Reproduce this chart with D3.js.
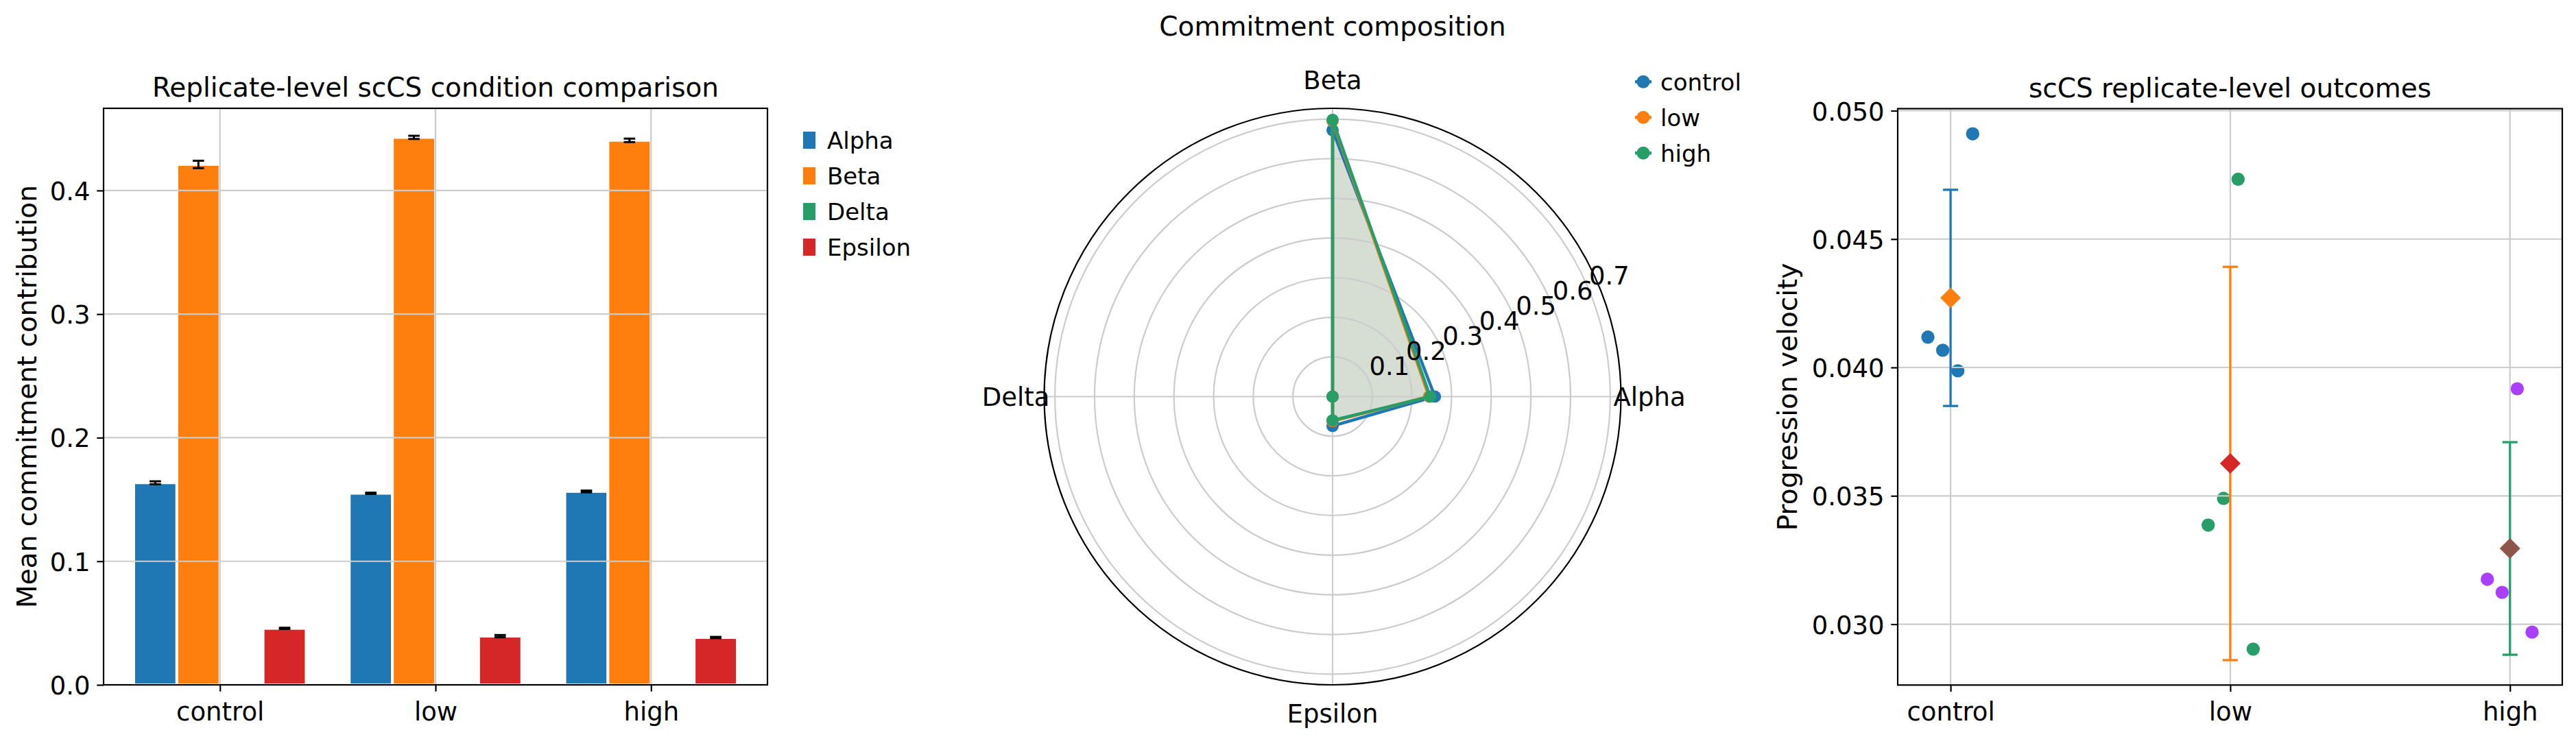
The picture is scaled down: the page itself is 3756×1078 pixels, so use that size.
<!DOCTYPE html>
<html>
<head>
<meta charset="utf-8">
<script src="https://cdn.jsdelivr.net/npm/d3@7"></script>
<style>
  html, body { margin: 0; padding: 0; background: #ffffff; }
  svg { display: block; }
  text { font-family: "DejaVu Sans", sans-serif; fill: #000; }
</style>
</head>
<body>
<script>
// ---------------- DATA ----------------
const conditions = ["control", "low", "high"];
const cellTypes = ["Alpha", "Beta", "Delta", "Epsilon"];

// Panel 1: mean commitment contribution per condition (bars) and error
const alphaMean   = [0.1635, 0.1550, 0.1565];
const betaMean    = [0.4211, 0.4430, 0.4406];
const deltaMean   = [0.0, 0.0, 0.0];
const epsilonMean = [0.0457, 0.0394, 0.0383];
const alphaErr    = [0.0012, 0.0005, 0.0007];
const betaErr     = [0.0030, 0.0013, 0.0014];
const deltaErr    = [0.0, 0.0, 0.0];
const epsilonErr  = [0.0005, 0.0009, 0.0005];
const barTicks    = [0.0, 0.1, 0.2, 0.3, 0.4];

// Panel 2: commitment composition (radar)
const radarControl = [0.258, 0.672, 0.0, 0.074];
const radarLow     = [0.243, 0.695, 0.0, 0.062];
const radarHigh    = [0.246, 0.698, 0.0, 0.060];
const radarTicks   = [0.1, 0.2, 0.3, 0.4, 0.5, 0.6, 0.7];
const radarMax     = 0.727;

// Panel 3: replicate-level progression velocity
const controlReps  = [0.04910, 0.04118, 0.04067, 0.03987];
const lowReps      = [0.04733, 0.03490, 0.03386, 0.02903];
const highReps     = [0.03917, 0.03175, 0.03124, 0.02969];
const controlJit   = [0.079, -0.081, -0.028, 0.026];
const lowJit       = [0.028, -0.024, -0.079, 0.082];
const highJit      = [0.026, -0.081, -0.028, 0.079];
const velMean      = [0.04271, 0.03626, 0.03295];
const velSd        = [0.00421, 0.00766, 0.00414];
const velTicks     = [0.030, 0.035, 0.040, 0.045, 0.050];
const velDomain    = [0.02763, 0.05008];

// ---------------- STYLE ----------------
const cellColors = ["#1f77b4", "#ff7f0e", "#279e68", "#d62728"];
const condColors = ["#1f77b4", "#ff7f0e", "#279e68"];
const pointColors = ["#1f77b4", "#279e68", "#aa40fc"];
const meanColors  = ["#ff7f0e", "#d62728", "#8c564b"];
const gridColor = "#cccccc";
const FS_TICK = 37, FS_LABEL = 39, FS_LEG = 34;
const TICK_LEN = 9.7, TICK_PAD = 9.7, SPINE_W = 2.2;

const W = 3756, H = 1078;
const svg = d3.select("body").append("svg").attr("width", W).attr("height", H);
svg.append("rect").attr("width", W).attr("height", H).attr("fill", "#fff");

// ================= PANEL 1: grouped bars =================
(function () {
  const L = 151, R = 1119, T = 158, B = 999;
  const barW = 0.2;
  const series = [alphaMean, betaMean, deltaMean, epsilonMean];
  const errs = [alphaErr, betaErr, deltaErr, epsilonErr];
  const topVal = d3.max(series.flatMap((s, k) => s.map((v, i) => v + errs[k][i])));
  const xMinB = -1.5 * barW - barW / 2, xMaxB = (conditions.length - 1) + 1.5 * barW + barW / 2;
  const xPad = 0.05 * (xMaxB - xMinB);
  const x = d3.scaleLinear().domain([xMinB - xPad, xMaxB + xPad]).range([L, R]);
  const y = d3.scaleLinear().domain([0, topVal * 1.05]).range([B, T]);
  const g = svg.append("g");

  // bars
  series.forEach((s, k) => {
    g.selectAll(null).data(s).enter().append("rect")
      .attr("x", (d, i) => x(i + (k - 1.5) * barW - barW / 2))
      .attr("width", x(barW) - x(0))
      .attr("y", d => y(d))
      .attr("height", d => y(0) - y(d))
      .attr("fill", cellColors[k])
      .attr("stroke", d => d > 0 ? "#fff" : "none")
      .attr("stroke-width", 4);
  });

  // grid (above bars like matplotlib default)
  g.selectAll(null).data(barTicks).enter().append("line")
    .attr("x1", L).attr("x2", R).attr("y1", d => y(d)).attr("y2", d => y(d))
    .attr("stroke", gridColor).attr("stroke-width", 2.2);
  g.selectAll(null).data(conditions).enter().append("line")
    .attr("x1", (d, i) => x(i)).attr("x2", (d, i) => x(i)).attr("y1", T).attr("y2", B)
    .attr("stroke", gridColor).attr("stroke-width", 2.2);

  // error bars
  series.forEach((s, k) => {
    if (k === 2) return;
    s.forEach((v, i) => {
      const cx = x(i + (k - 1.5) * barW);
      const e = errs[k][i];
      g.append("line").attr("x1", cx).attr("x2", cx).attr("y1", y(v - e)).attr("y2", y(v + e))
        .attr("stroke", "#000").attr("stroke-width", 3);
      [v - e, v + e].forEach(val => {
        g.append("line").attr("x1", cx - 8.3).attr("x2", cx + 8.3).attr("y1", y(val)).attr("y2", y(val))
          .attr("stroke", "#000").attr("stroke-width", 3);
      });
    });
  });

  // frame
  g.append("rect").attr("x", L).attr("y", T).attr("width", R - L).attr("height", B - T)
    .attr("fill", "none").attr("stroke", "#000").attr("stroke-width", SPINE_W);

  // axes
  const yAxis = d3.axisLeft(y).tickValues(barTicks).tickFormat(d3.format(".1f"))
    .tickSize(TICK_LEN).tickPadding(TICK_PAD);
  const ya = g.append("g").attr("transform", `translate(${L},0)`).call(yAxis);
  const xAxis = d3.axisBottom(x).tickValues(conditions.map((c, i) => i))
    .tickFormat(i => conditions[i]).tickSize(TICK_LEN).tickPadding(TICK_PAD);
  const xa = g.append("g").attr("transform", `translate(0,${B})`).call(xAxis);
  [ya, xa].forEach(a => {
    a.select(".domain").remove();
    a.selectAll(".tick line").attr("stroke", "#000").attr("stroke-width", SPINE_W);
    a.selectAll(".tick text").attr("font-size", FS_TICK).attr("font-family", "DejaVu Sans");
  });
  ya.selectAll(".tick text").attr("dy", "0.365em");
  xa.selectAll(".tick text").attr("dy", null).attr("y", 1051 - B).attr("dominant-baseline", "alphabetic");

  // title & label
  g.append("text").attr("x", (L + R) / 2).attr("y", T - 16.7).attr("text-anchor", "middle")
    .attr("font-size", FS_LABEL).text("Replicate-level scCS condition comparison");
  g.append("text").attr("transform", `translate(53,${(T + B) / 2}) rotate(-90)`)
    .attr("text-anchor", "middle").attr("font-size", FS_LABEL).text("Mean commitment contribution");

  // legend
  const lg = g.append("g");
  cellTypes.forEach((c, k) => {
    lg.append("rect").attr("x", 1171).attr("y", 192 + k * 52).attr("width", 18).attr("height", 25)
      .attr("fill", cellColors[k]);
    lg.append("text").attr("x", 1206).attr("y", 216.7 + k * 52).attr("font-size", FS_LEG).text(c);
  });
})();

// ================= PANEL 2: radar =================
(function () {
  const cx = 1943, cy = 578.5, Rpx = 420.5;
  const r = d3.scaleLinear().domain([0, radarMax]).range([0, Rpx]);
  const g = svg.append("g").attr("transform", `translate(${cx},${cy})`);
  const theta = j => j * Math.PI / 2; // counter-clockwise from east
  const px = (val, j) => r(val) * Math.cos(theta(j));
  const py = (val, j) => -r(val) * Math.sin(theta(j));
  const line = d3.line().x(d => d[0]).y(d => d[1]).curve(d3.curveLinearClosed);
  const datasets = [radarControl, radarLow, radarHigh];

  // fills (below grid)
  datasets.forEach((vals, c) => {
    g.append("path").attr("d", line(vals.map((v, j) => [px(v, j), py(v, j)])))
      .attr("fill", condColors[c]).attr("fill-opacity", 0.1).attr("stroke", "none");
  });

  // grid
  g.selectAll(null).data(radarTicks).enter().append("circle")
    .attr("r", d => r(d)).attr("fill", "none").attr("stroke", gridColor).attr("stroke-width", 2.2);
  cellTypes.forEach((c, j) => {
    g.append("line").attr("x1", 0).attr("y1", 0).attr("x2", px(radarMax, j)).attr("y2", py(radarMax, j))
      .attr("stroke", gridColor).attr("stroke-width", 2.2);
  });

  // lines + markers
  datasets.forEach((vals, c) => {
    const pts = vals.map((v, j) => [px(v, j), py(v, j)]);
    g.append("path").attr("d", line(pts)).attr("fill", "none")
      .attr("stroke", condColors[c]).attr("stroke-width", 4.5).attr("stroke-linejoin", "round");
    g.selectAll(null).data(pts).enter().append("circle")
      .attr("cx", d => d[0]).attr("cy", d => d[1]).attr("r", 9).attr("fill", condColors[c]);
  });

  // outer spine
  g.append("circle").attr("r", Rpx).attr("fill", "none").attr("stroke", "#000").attr("stroke-width", SPINE_W);

  // angular labels
  cellTypes.forEach((c, j) => {
    const rr = Rpx + 41.5;
    g.append("text").attr("x", rr * Math.cos(theta(j))).attr("y", -rr * Math.sin(theta(j)) + 13.5)
      .attr("text-anchor", "middle").attr("font-size", FS_TICK).text(c);
  });

  // radial labels at 22.5 deg
  const a = 22.5 * Math.PI / 180;
  radarTicks.forEach(t => {
    g.append("text").attr("x", r(t) * Math.cos(a)).attr("y", -r(t) * Math.sin(a) - 9)
      .attr("font-size", FS_TICK).text(d3.format(".1f")(t));
  });

  // title
  svg.append("text").attr("x", cx).attr("y", 52).attr("text-anchor", "middle")
    .attr("font-size", FS_LABEL).text("Commitment composition");

  // legend
  const lg = svg.append("g");
  conditions.forEach((c, k) => {
    const yy = 119.3 + k * 52;
    lg.append("line").attr("x1", 2384).attr("x2", 2408).attr("y1", yy).attr("y2", yy)
      .attr("stroke", condColors[k]).attr("stroke-width", 4.5);
    lg.append("circle").attr("cx", 2396).attr("cy", yy).attr("r", 9.5).attr("fill", condColors[k]);
    lg.append("text").attr("x", 2421).attr("y", yy + 13).attr("font-size", FS_LEG).text(c);
  });
})();

// ================= PANEL 3: replicate outcomes =================
(function () {
  const L = 2767, R = 3736, T = 158.5, B = 999.3;
  const x = d3.scaleLinear().domain([-0.189, 2.187]).range([L, R]);
  const y = d3.scaleLinear().domain(velDomain).range([B, T]);
  const g = svg.append("g");
  const reps = [controlReps, lowReps, highReps];
  const jits = [controlJit, lowJit, highJit];

  // points (below grid, like matplotlib collections)
  reps.forEach((vals, i) => {
    g.selectAll(null).data(vals).enter().append("circle")
      .attr("cx", (d, k) => x(i + jits[i][k])).attr("cy", d => y(d)).attr("r", 9.7)
      .attr("fill", pointColors[i]);
  });

  // grid
  g.selectAll(null).data(velTicks).enter().append("line")
    .attr("x1", L).attr("x2", R).attr("y1", d => y(d)).attr("y2", d => y(d))
    .attr("stroke", gridColor).attr("stroke-width", 2.2);
  g.selectAll(null).data(conditions).enter().append("line")
    .attr("x1", (d, i) => x(i)).attr("x2", (d, i) => x(i)).attr("y1", T).attr("y2", B)
    .attr("stroke", gridColor).attr("stroke-width", 2.2);

  // error bars + mean diamonds
  velMean.forEach((m, i) => {
    const cx = x(i), s = velSd[i];
    g.append("line").attr("x1", cx).attr("x2", cx).attr("y1", y(m - s)).attr("y2", y(m + s))
      .attr("stroke", condColors[i]).attr("stroke-width", 3.3);
    [m - s, m + s].forEach(v => {
      g.append("line").attr("x1", cx - 11).attr("x2", cx + 11).attr("y1", y(v)).attr("y2", y(v))
        .attr("stroke", condColors[i]).attr("stroke-width", 3.3);
    });
    const h = 15;
    g.append("path").attr("d", `M${cx},${y(m) - h}L${cx + h},${y(m)}L${cx},${y(m) + h}L${cx - h},${y(m)}Z`)
      .attr("fill", meanColors[i]);
  });

  // frame
  g.append("rect").attr("x", L).attr("y", T).attr("width", R - L).attr("height", B - T)
    .attr("fill", "none").attr("stroke", "#000").attr("stroke-width", SPINE_W);

  const yAxis = d3.axisLeft(y).tickValues(velTicks).tickFormat(d3.format(".3f"))
    .tickSize(TICK_LEN).tickPadding(TICK_PAD);
  const ya = g.append("g").attr("transform", `translate(${L},0)`).call(yAxis);
  const xAxis = d3.axisBottom(x).tickValues(conditions.map((c, i) => i))
    .tickFormat(i => conditions[i]).tickSize(TICK_LEN).tickPadding(TICK_PAD);
  const xa = g.append("g").attr("transform", `translate(0,${B})`).call(xAxis);
  [ya, xa].forEach(a => {
    a.select(".domain").remove();
    a.selectAll(".tick line").attr("stroke", "#000").attr("stroke-width", SPINE_W);
    a.selectAll(".tick text").attr("font-size", FS_TICK).attr("font-family", "DejaVu Sans");
  });
  ya.selectAll(".tick text").attr("dy", "0.365em");
  xa.selectAll(".tick text").attr("dy", null).attr("y", 1051 - B).attr("dominant-baseline", "alphabetic");

  g.append("text").attr("x", (L + R) / 2).attr("y", T - 16.7).attr("text-anchor", "middle")
    .attr("font-size", FS_LABEL).text("scCS replicate-level outcomes");
  g.append("text").attr("transform", `translate(2620,${(T + B) / 2}) rotate(-90)`)
    .attr("text-anchor", "middle").attr("font-size", FS_LABEL).text("Progression velocity");
})();
</script>
</body>
</html>
